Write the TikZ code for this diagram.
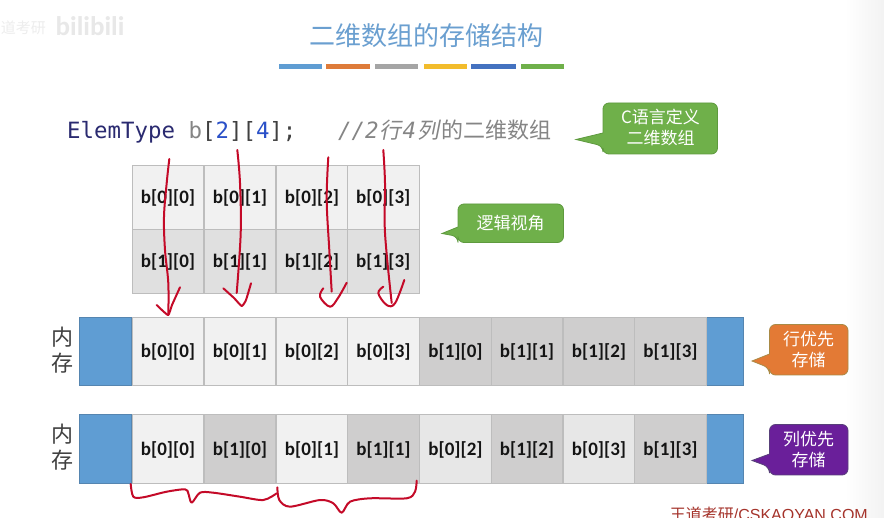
\documentclass[tikz,border=0pt]{standalone}
\usepackage{fontspec}
\setmainfont{Liberation Sans}
\newfontfamily\cjk{Noto Sans CJK SC}
\newfontfamily\cjkslant[FakeSlant=0.2]{Noto Sans CJK SC}
\newfontfamily\cellfont{Carlito}
\newfontfamily\codefont{DejaVu Sans Mono}
\definecolor{titleblue}{HTML}{6A9FD0}
\definecolor{memblue}{HTML}{5F9DD3}
\definecolor{memblueline}{HTML}{5585B0}
\definecolor{cellline}{HTML}{BDBDBD}
\definecolor{celllight}{HTML}{F1F1F1}
\definecolor{cellpale}{HTML}{E7E7E7}
\definecolor{cellgrid}{HTML}{E0E0E0}
\definecolor{celldark}{HTML}{CFCECE}
\definecolor{inkred}{HTML}{C40A28}
\definecolor{codenavy}{HTML}{2A2A70}
\definecolor{codeblue}{HTML}{2A50C8}
\definecolor{codegrey}{HTML}{858585}
\definecolor{calloutgreen}{HTML}{6FB04A}
\definecolor{calloutgreenline}{HTML}{5E9A3E}
\definecolor{calloutorange}{HTML}{E37A35}
\definecolor{calloutorangeline}{HTML}{A98A45}
\definecolor{calloutpurple}{HTML}{6A1F9A}
\definecolor{calloutpurpleline}{HTML}{58407A}
\definecolor{markred}{HTML}{A5332B}
\definecolor{baryellow}{HTML}{F2BC2C}
\definecolor{barblue}{HTML}{4472C0}
\definecolor{bargrey}{HTML}{A5A5A5}
\definecolor{barorange}{HTML}{DE7B3A}
\tikzset{
  cellbox/.style={draw=cellline,line width=1pt,minimum width=#1,minimum height=0pt,inner sep=0pt,
    font=\cellfont\bfseries\fontsize{19}{19}\selectfont,text=black!92},
  gridcell/.style={cellbox=71.5pt,minimum height=64pt},
  memcell/.style={cellbox=71.7pt,minimum height=68pt},
  memblock/.style={draw=memblueline,fill=memblue,line width=1pt,inner sep=0pt,minimum height=68pt},
  memlabel/.style={font=\cjk\fontsize{22}{26}\selectfont,text=black!75,align=center,inner sep=0pt},
  calloutshape/.style={line width=.8pt,rounded corners=6pt},
  callouttext/.style={font=\cjk\fontsize{17}{21}\selectfont,text=white,align=center,inner sep=0pt},
  rulebar/.style={inner sep=0pt,minimum height=4.5pt},
  inkstroke/.style={draw=inkred,line width=2pt,line cap=round,line join=round},
}
\newcommand{\calloutpath}[9][]{%
  \draw[calloutshape,#1] (#2,#6) -- (#2,#3) -- (#4,#3) -- (#4,#5) -- (#2,#5) -- (#2,#9)
    [sharp corners] -- (#7,#8) -- (#2,#6);
}
\begin{document}
\begin{tikzpicture}[x=1pt,y=-1pt]
\useasboundingbox (0,0) rectangle (884,518);
\fill[white] (0,0) rectangle (884,518);
\shade[left color=white,right color=black!5] (845,0) rectangle (884,518);
% watermarks
\node[font=\cjk\fontsize{15}{15}\selectfont,text=black!7,anchor=east,inner sep=0pt] (wmark) at (46,28) {道考研};
\node[font=\cellfont\bfseries\fontsize{27}{27}\selectfont,text=black!9,inner sep=0pt] (bili) at (90,26) {bilibili};
% title and colour bars
\node[font=\cjk\fontsize{26}{26}\selectfont,text=titleblue,inner sep=0pt] (title) at (426,36) {二维数组的存储结构};
\node[rulebar,fill=memblue,minimum width=43pt] (bar1) at (300.5,66.5) {};
\node[rulebar,fill=barorange,minimum width=44pt] (bar2) at (348,66.5) {};
\node[rulebar,fill=bargrey,minimum width=43pt] (bar3) at (396.5,66.5) {};
\node[rulebar,fill=baryellow,minimum width=43pt] (bar4) at (445.5,66.5) {};
\node[rulebar,fill=barblue,minimum width=45pt] (bar5) at (493.5,66.5) {};
\node[rulebar,fill=calloutgreen,minimum width=43pt] (bar6) at (542.5,66.5) {};
% code line
\node[anchor=base west,inner sep=0pt,font=\codefont\fontsize{22.4}{22.4}\selectfont] (code) at (67,138.5)
  {\textcolor{codenavy}{ElemType} \textcolor{codegrey}{b}\textcolor{black!75}{[}\textcolor{codeblue}{2}\textcolor{black!75}{][}\textcolor{codeblue}{4}\textcolor{black!75}{];}};
\node[anchor=base west,inner sep=0pt,font=\fontsize{22}{22}\selectfont,text=codegrey] (comment) at (338,138.5)
  {{\codefont\itshape\fontsize{22.4}{22.4}\selectfont //2}\hspace{1pt}{\cjkslant 行}\hspace{1pt}{\codefont\itshape\fontsize{22.4}{22.4}\selectfont 4}\hspace{1pt}{\cjkslant 列}\hspace{2pt}{\cjk 的二维数组}};
% logical grid
\node[gridcell,fill=celllight] (g00) at (168,198) {b[0][0]};
\node[gridcell,fill=celllight] (g01) at (240,198) {b[0][1]};
\node[gridcell,fill=celllight] (g02) at (312,198) {b[0][2]};
\node[gridcell,fill=celllight] (g03) at (383.3,198) {b[0][3]};
\node[gridcell,fill=cellgrid] (g10) at (168,262) {b[1][0]};
\node[gridcell,fill=cellgrid] (g11) at (240,262) {b[1][1]};
\node[gridcell,fill=cellgrid] (g12) at (312,262) {b[1][2]};
\node[gridcell,fill=cellgrid] (g13) at (383.3,262) {b[1][3]};
% row-major memory
\node[memlabel] (mlabA) at (62,350) {内\\存};
\node[memblock,minimum width=52.5pt] (blA1) at (105.7,352) {};
\node[memblock,minimum width=37pt] (blA2) at (724.5,352) {};
\node[memcell,fill=celllight] (a1) at (168,352) {b[0][0]};
\node[memcell,fill=celllight] (a2) at (240,352) {b[0][1]};
\node[memcell,fill=celllight] (a3) at (312,352) {b[0][2]};
\node[memcell,fill=celllight] (a4) at (383.5,352) {b[0][3]};
\node[memcell,fill=celldark] (a5) at (455.5,352) {b[1][0]};
\node[memcell,fill=celldark] (a6) at (527,352) {b[1][1]};
\node[memcell,fill=celldark] (a7) at (599,352) {b[1][2]};
\node[memcell,fill=celldark] (a8) at (670.5,352) {b[1][3]};
% column-major memory
\node[memlabel] (mlabB) at (62,447) {内\\存};
\node[memblock,minimum width=52.5pt,minimum height=69pt] (blB1) at (105.7,449.5) {};
\node[memblock,minimum width=37pt,minimum height=69pt] (blB2) at (724.5,449.5) {};
\node[memcell,minimum height=69pt,fill=celllight] (b1) at (168,449.5) {b[0][0]};
\node[memcell,minimum height=69pt,fill=celldark] (b2) at (240,449.5) {b[1][0]};
\node[memcell,minimum height=69pt,fill=celllight] (b3) at (312,449.5) {b[0][1]};
\node[memcell,minimum height=69pt,fill=celldark] (b4) at (383.5,449.5) {b[1][1]};
\node[memcell,minimum height=69pt,fill=cellpale] (b5) at (455.5,449.5) {b[0][2]};
\node[memcell,minimum height=69pt,fill=celldark] (b6) at (527,449.5) {b[1][2]};
\node[memcell,minimum height=69pt,fill=cellpale] (b7) at (599,449.5) {b[0][3]};
\node[memcell,minimum height=69pt,fill=celldark] (b8) at (670.5,449.5) {b[1][3]};
% callouts
\calloutpath[fill=calloutgreen,draw=calloutgreenline]{603}{103}{717.5}{154}{133}{576}{139.5}{146}
\node[callouttext] (cA) at (660.5,128) {C语言定义\\二维数组};
\calloutpath[fill=calloutgreen,draw=calloutgreenline]{458}{204}{563.5}{242.5}{227}{442}{233.5}{236.5}
\node[callouttext] (cB) at (510.5,223) {逻辑视角};
\calloutpath[fill=calloutorange,draw=calloutorangeline]{769.5}{324.5}{848}{375}{354}{752}{361}{368}
\node[callouttext] (cC) at (808.5,350) {行优先\\存储};
\calloutpath[fill=calloutpurple,draw=calloutpurpleline]{769.5}{424.5}{848}{475}{454}{752}{460.5}{467}
\node[callouttext] (cD) at (808.5,450) {列优先\\存储};
% handwritten red strokes
\draw[inkstroke] plot[smooth,tension=.6] coordinates {(169.3,159) (166.7,183) (164,216.7) (165,250) (168.3,283) (168.3,315)};
\draw[inkstroke] plot[smooth,tension=.3] coordinates {(180,287.3) (172,305) (168,315) (156.7,305)};
\draw[inkstroke] plot[smooth,tension=.6] coordinates {(237.3,150) (240,183) (240.7,233) (236.7,293)};
\draw[inkstroke] plot[smooth,tension=.3] coordinates {(223.3,288.3) (234,298) (241.7,306) (246,300) (251,283.3)};
\draw[inkstroke] plot[smooth,tension=.6] coordinates {(328.3,157.3) (326.7,200) (329.3,250) (331.7,291.7)};
\draw[inkstroke] plot[smooth,tension=.6] coordinates {(323.3,288.3) (320,296.7) (330,306.7) (338,298) (346.7,282.7)};
\draw[inkstroke] plot[smooth,tension=.6] coordinates {(383.3,150) (385,183) (385,233) (391.7,303)};
\draw[inkstroke] plot[smooth,tension=.6] coordinates {(383.3,286.7) (378.3,293.3) (386.7,305) (395,303.3) (404.3,280)};
\draw[inkstroke] plot[smooth,tension=.5] coordinates {(130.7,484) (133.3,496.7) (143.3,497.3) (166.7,491.7) (185,489.3) (188.3,493.3) (191.7,502.7) (200,492.7) (213.3,492.7) (240,496.7) (263.3,500) (276.7,493.3)};
\draw[inkstroke] plot[smooth,tension=.5] coordinates {(277.3,487.3) (279.3,500) (290,506.7) (320,500) (333.3,503.3) (341.7,512.7) (350,501.7) (370,498.3) (406.7,498.3) (415,491.7) (416.7,480.7)};
% cropped credit line
\begin{scope}
\clip (0,0) rectangle (884,518);
\node[anchor=base east,inner sep=0pt,font=\fontsize{16}{16}\selectfont,text=markred] (credit) at (868,521) {{\cjk 王道考研}/CSKAOYAN.COM};
\end{scope}
\end{tikzpicture}
\end{document}
